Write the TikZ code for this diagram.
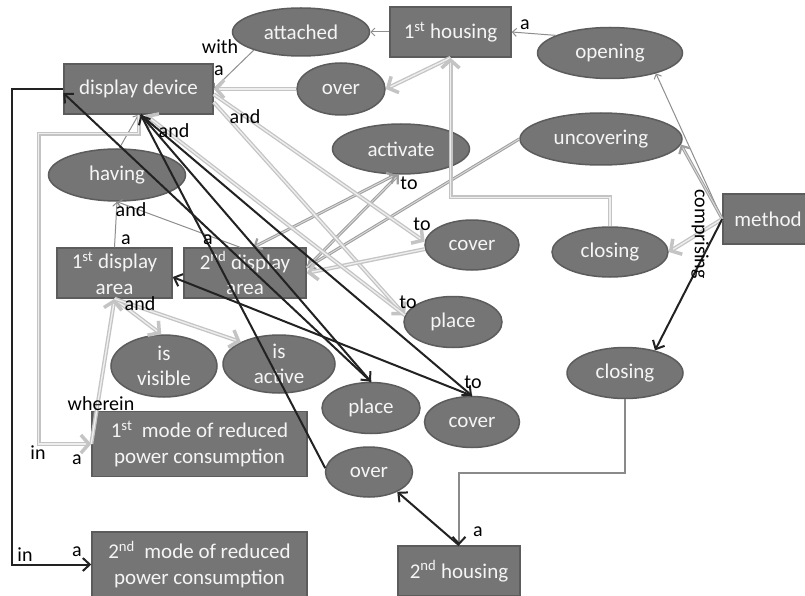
\documentclass[tikz,border=0pt]{standalone}
\usepackage{fontspec}
\setmainfont{Carlito}
\usetikzlibrary{arrows.meta,shapes.geometric}
\definecolor{nfill}{HTML}{757575}
\definecolor{nline}{HTML}{5C5C5C}
\definecolor{ntext}{HTML}{F5F5F5}
\definecolor{lgc}{HTML}{C4C4C4}
\definecolor{lgin}{HTML}{EEEEEE}
\definecolor{mgc}{HTML}{9E9E9E}
\definecolor{mgin}{HTML}{D8D8D8}
\definecolor{tgc}{HTML}{8E8E8E}
\definecolor{bkc}{HTML}{222222}
\definecolor{msc}{HTML}{8A8A8A}
\tikzset{
  nodetext/.style={text=ntext, font=\fontsize{21}{25.5}\selectfont, align=center, inner sep=0pt},
  boxn/.style={rectangle, draw=nline, line width=1.5pt, fill=nfill, nodetext},
  elln/.style={ellipse, draw=nline, line width=1.5pt, fill=nfill, inner sep=0pt},
  lbl/.style={font=\fontsize{20}{24}\selectfont, text=black, inner sep=0pt},
  tge/.style={draw=tgc, line width=1pt, -{Straight Barb[length=4pt,width=8pt,line width=1pt]}},
  lge/.style={draw=lgc, line width=1.3pt, double=lgin, double distance=1.4pt, -{Straight Barb[length=8pt,width=18pt,line width=3.5pt]}},
  mge/.style={draw=mgc, line width=1pt, double=mgin, double distance=1pt, -{Straight Barb[length=6pt,width=12pt,line width=2.2pt]}},
  mgboth/.style={draw=mgc, line width=1pt, double=mgin, double distance=1pt, {Straight Barb[length=6pt,width=12pt,line width=2.2pt]}-{Straight Barb[length=6pt,width=12pt,line width=2.2pt]}},
  bke/.style={draw=bkc, line width=2pt, -{Straight Barb[length=7pt,width=13pt,line width=2pt]}},
  mse/.style={draw=msc, line width=2pt, -{Straight Barb[length=7pt,width=13pt,line width=2pt,color=bkc]}},
}
\newcommand{\ellnode}[6]{\node[elln, minimum width=#4pt, minimum height=#5pt, label={[nodetext]center:{#6}}] (#1) at (#2,#3) {};}
\newcommand{\boxnode}[6]{\node[boxn, minimum width=#4pt, minimum height=#5pt] (#1) at (#2,#3) {#6};}
\begin{document}
\begin{tikzpicture}[x=1pt,y=-1pt]
\useasboundingbox (0,0) rectangle (805,596);
\fill[white] (0,0) rectangle (805,596);
% rectangles
\boxnode{dd}{138.5}{89}{149}{50}{display device}
\boxnode{h1}{450.5}{32}{121}{50}{1\textsuperscript{st} housing}
\boxnode{meth}{768}{219}{90}{50}{method}
\boxnode{da1}{114.5}{273}{115}{50}{1\textsuperscript{st} display\\area}
\boxnode{da2}{245}{273}{122}{50}{2\textsuperscript{nd} display\\area}
\boxnode{m1}{199.5}{444}{215}{65}{1\textsuperscript{st}\ \ mode of reduced\\power consumption}
\boxnode{m2}{199.5}{564.5}{215}{65}{2\textsuperscript{nd}\ \ mode of reduced\\power consumption}
\boxnode{h2}{459}{571}{122}{50}{2\textsuperscript{nd} housing}
% ellipses
\ellnode{att}{301}{32}{137}{48}{attached}
\ellnode{ov1}{341}{89}{88}{52}{over}
\ellnode{op}{610}{53}{145}{51}{opening}
\ellnode{unc}{601}{139}{162}{52}{uncovering}
\ellnode{cl1}{610}{252}{116}{50}{closing}
\ellnode{act}{401}{149}{137}{50}{activate}
\ellnode{hav}{117}{175}{137}{52}{having}
\ellnode{cov1}{472}{245}{94}{50}{cover}
\ellnode{pl1}{453}{322}{98}{51}{place}
\ellnode{vis}{164}{366}{106}{62}{is\\visible}
\ellnode{act2}{279}{364}{112}{58}{is\\active}
\ellnode{pl2}{371}{408}{98}{51}{place}
\ellnode{cov2}{472}{422}{95}{51}{cover}
\ellnode{ov2}{369}{472}{87}{50}{over}
\ellnode{cl2}{625}{373}{116}{51}{closing}
% thin gray connectors
\draw[tge] (h1.west) -- (att.east);
\draw[tge] (op.162) -- (h1.east);
\draw[tge] (att.201) -- (dd.east);
\draw[tge] (hav.85) -- (dd.south);
\draw[tge] (da1.north) -- (hav.south);
\draw[tge] (da2.101) -- (hav.south);
\draw[tge] (meth.west) -- (op.-24);
% medium gray double connectors
\draw[mge] (meth.west) -- (unc.-4);
\draw[mge] (unc.west) -- (da2.5);
\draw[mge] (da2.5) -- (act.265);
\draw[mgboth] (da2.72) -- (act.258);
% light gray double connectors
\draw[lge] (h1.south) -- (ov1.east);
\draw[lge] (ov1.west) -- (dd.east);
\draw[lge] (meth.west) -- (cl1.east);
\draw[lge] (cl1.north) -- ++(0,-29) -| (h1.south);
\draw[lge] (dd.-4) -- (cov1.176);
\draw[lge] (dd.-10) -- (pl1.172);
\draw[lge] (cov1.185) -- (da2.0);
\draw[lge] (pl1.172) -- (dd.-75);
\draw[lge] (dd.south) -- ++(0,19) -- ++(-100,0) |- (m1.west);
\draw[lge] (m1.west) -- (da1.south);
\draw[lge] (da1.south) -- (vis.95);
\draw[lge] (da1.south) -- (act2.150);
% black connectors
\draw[bke] (dd.west) -- ++(-51,0) |- (m2.west);
\draw[bke] (pl2.north) -- (dd.183);
\draw[bke] (dd.-85) -- (pl2.north);
\draw[bke] (dd.-85) -- (cov2.north);
\draw[bke] (ov2.175) -- (dd.-85);
\draw[bke] (cov2.north) -- (da1.-4);
\draw[bke] (h2.north) -- (ov2.-35);
\draw[bke] (meth.west) -- (cl2.37);
% medium gray route
\draw[mse] (cl2.south) -- ++(0,74) -| (h2.north);
% labels
\node[lbl] (t1) at (220,47) {with};
\node[lbl] (t2) at (219,71) {a};
\node[lbl] (t3) at (245,117) {and};
\node[lbl] (t4) at (174,131) {and};
\node[lbl] (t5) at (525,25) {a};
\node[lbl] (t6) at (409,183) {to};
\node[lbl] (t7) at (422,224) {to};
\node[lbl] (t8) at (408,302) {to};
\node[lbl] (t9) at (473,382) {to};
\node[lbl] (t10) at (131,210) {and};
\node[lbl] (t11) at (126,240) {a};
\node[lbl] (t12) at (208,240) {a};
\node[lbl] (t13) at (140,304) {and};
\node[lbl] (t14) at (101,404) {wherein};
\node[lbl] (t15) at (38,453) {in};
\node[lbl] (t16) at (77,460) {a};
\node[lbl] (t17) at (25,555) {in};
\node[lbl] (t18) at (77,552) {a};
\node[lbl] (t19) at (478,532) {a};
\node[lbl, rotate=-90] (t20) at (700,234) {comprising};
\end{tikzpicture}
\end{document}
